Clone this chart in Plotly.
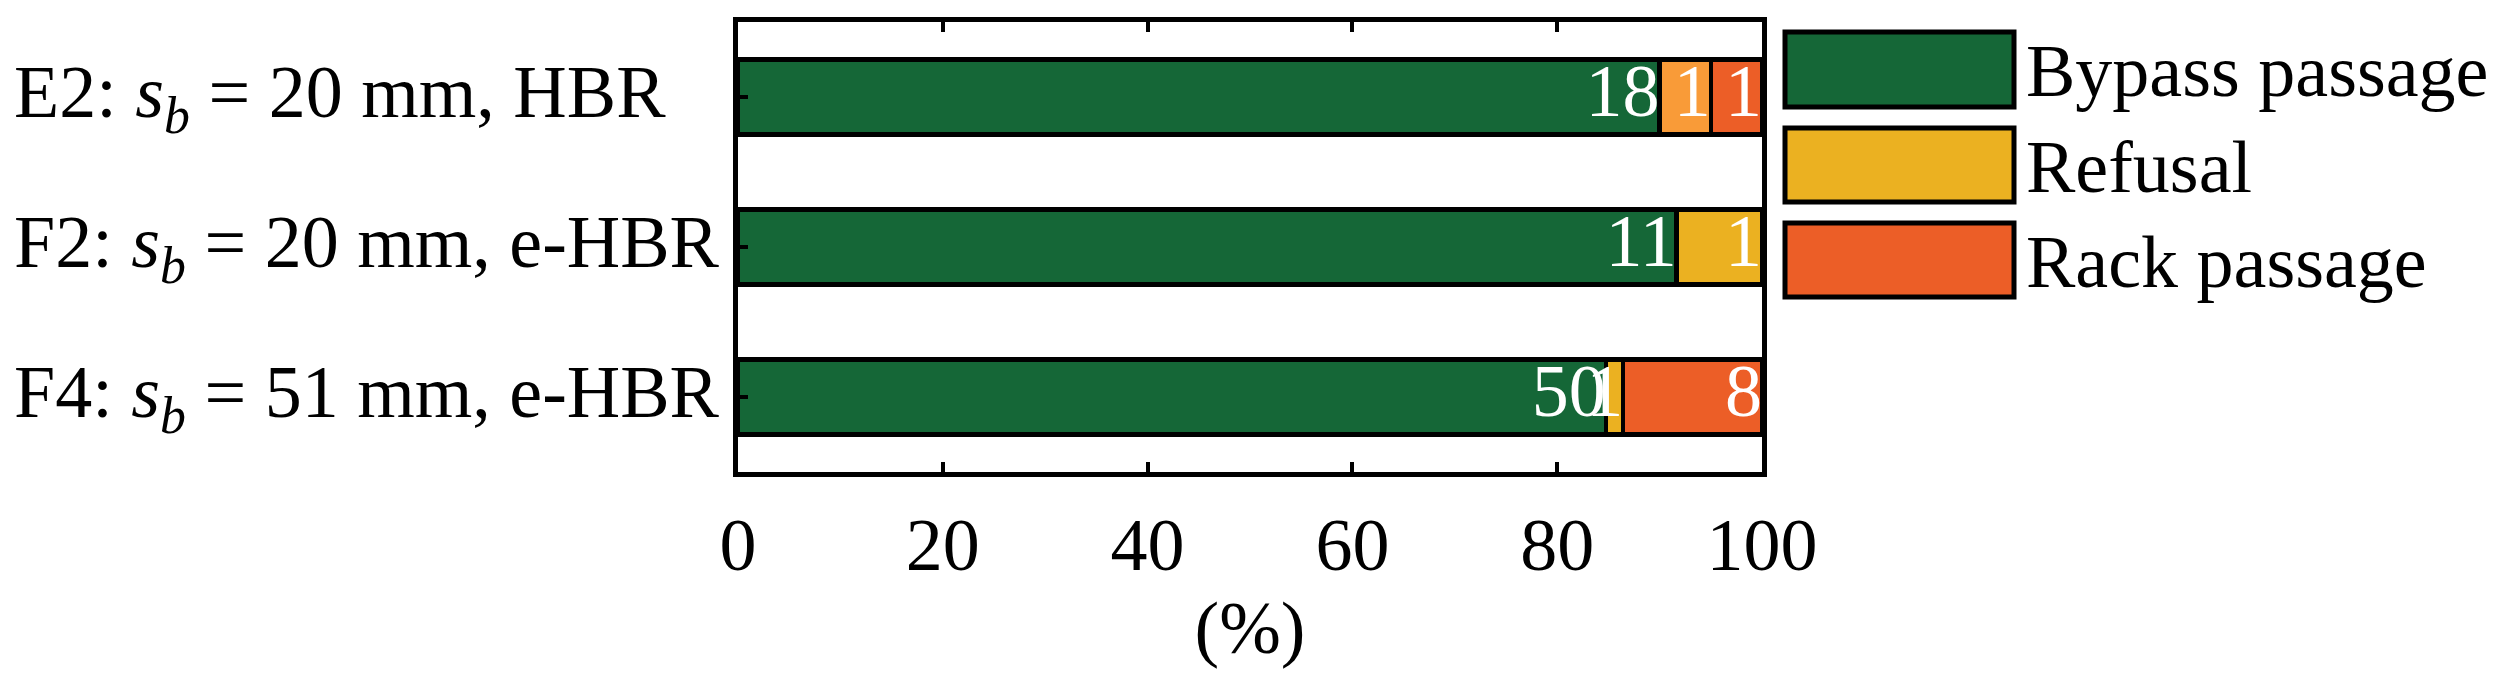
import numpy as np
import plotly.graph_objects as go

# ---- data ----
categories = [
    "E2: <i>s</i><sub><i>b</i></sub> = 20 mm, HBR",
    "F2: <i>s</i><sub><i>b</i></sub> = 20 mm, e-HBR",
    "F4: <i>s</i><sub><i>b</i></sub> = 51 mm, e-HBR",
]
bypass = [18, 11, 50]
refusal = [1, 1, 1]
rack = [1, 0, 8]
series_names = ["Bypass passage", "Refusal", "Rack passage"]
x_ticks = [0, 20, 40, 60, 80, 100]
x_title = "(%)"

# ---- styling ----
FONT = "Liberation Serif"
FS = 74
GREEN = "#156737"
YELLOW = "#EBB121"
LIGHT_ORANGE = "#F99B38"
RED = "#EC5E27"

counts = np.array([bypass, refusal, rack], dtype=float)
totals = counts.sum(axis=0)
pct = counts / totals * 100.0
cum = np.cumsum(pct, axis=0)

refusal_colors = [LIGHT_ORANGE, YELLOW, YELLOW]
colors = [[GREEN] * 3, refusal_colors, [RED] * 3]

fig = go.Figure()
for i, name in enumerate(series_names):
    fig.add_trace(go.Bar(
        y=categories, x=pct[i], orientation="h", name=name,
        marker=dict(color=colors[i], line=dict(color="black", width=4.5)),
        width=0.5, showlegend=False, hoverinfo="skip",
    ))

# value labels at the end of each segment
for i in range(3):
    xs, ys, ts = [], [], []
    for j in range(3):
        if counts[i][j] > 0:
            xs.append(cum[i][j])
            ys.append(categories[j])
            ts.append(str(int(counts[i][j])))
    fig.add_trace(go.Scatter(
        x=xs, y=ys, text=ts, mode="text", textposition="middle left",
        textfont=dict(family=FONT, size=FS, color="white"),
        showlegend=False, hoverinfo="skip", cliponaxis=False,
    ))

# page has an 8px body margin: the figure is sized/offset to compensate
OFF = 8
W, H = 2504 - OFF, 688 - OFF
# plot area in page pixels: x 738..1762, y 22..472
L, R = 738 - OFF, 2504 - 1762
T, B = 22 - OFF, 688 - 472
pw = W - L - R
ph = H - T - B

def px_to_paper_x(px):
    return (px - OFF - L) / pw

def px_to_paper_y(py):
    return (H - B - (py - OFF)) / ph

# category labels (left-aligned, as in the reference)
for c in categories:
    fig.add_annotation(xref="paper", yref="y", x=px_to_paper_x(12), y=c,
                       text=c, showarrow=False, xanchor="left", yanchor="middle",
                       font=dict(family=FONT, size=FS, color="black"))

# manual legend (swatches + labels)
legend_boxes = [(32, 107), (128, 202), (223, 297)]
legend_colors = [GREEN, YELLOW, RED]
for (y0, y1), c, name in zip(legend_boxes, legend_colors, series_names):
    fig.add_shape(type="rect", xref="paper", yref="paper",
                  x0=px_to_paper_x(1785), x1=px_to_paper_x(2014),
                  y0=px_to_paper_y(y1), y1=px_to_paper_y(y0),
                  fillcolor=c, line=dict(color="black", width=5))
    fig.add_annotation(xref="paper", yref="paper",
                       x=px_to_paper_x(2024), y=px_to_paper_y((y0 + y1) / 2 + 2),
                       text=name, showarrow=False, xanchor="left", yanchor="middle",
                       font=dict(family=FONT, size=FS, color="black"))

fig.update_layout(
    width=W, height=H,
    margin=dict(l=L, r=R, t=T, b=B, autoexpand=False),
    plot_bgcolor="white", paper_bgcolor="white",
    barmode="stack", bargap=0.5,
    font=dict(family=FONT, size=FS, color="black"),
)
fig.update_xaxes(
    range=[0, 100], tickvals=x_ticks, ticktext=[str(v) for v in x_ticks],
    ticks="inside", ticklen=10, tickwidth=3.5, tickcolor="black",
    showline=True, linecolor="black", linewidth=5, mirror="ticks",
    showgrid=False, zeroline=False, automargin=False,
    tickfont=dict(family=FONT, size=FS), ticklabelstandoff=4,
    title=dict(text=x_title, font=dict(family=FONT, size=FS), standoff=18),
)
fig.update_yaxes(
    categoryorder="array", categoryarray=categories,
    range=[2.5, -0.5],
    ticks="inside", ticklen=10, tickwidth=4, tickcolor="black",
    showline=True, linecolor="black", linewidth=5, mirror=True,
    showgrid=False, zeroline=False, automargin=False,
    showticklabels=False,
)

fig.write_html("out.html")
